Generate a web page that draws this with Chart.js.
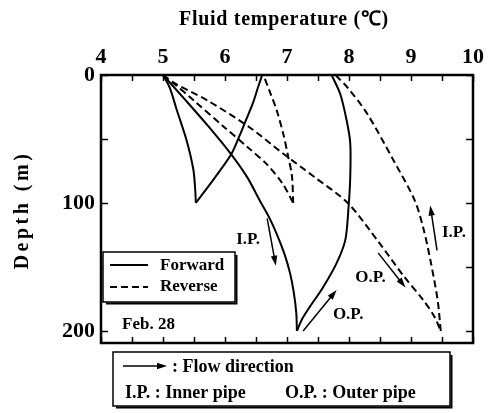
<!DOCTYPE html>
<html><head><meta charset="utf-8">
<script src="https://cdn.jsdelivr.net/npm/chart.js@4.4.0/dist/chart.umd.min.js"></script>
<style>html,body{margin:0;padding:0;background:#fff;}canvas{display:block;}</style>
</head><body>
<canvas id="c" width="491" height="413"></canvas>
<script>
// ---- axis ticks ----
const xTickValues = [4, 5, 6, 7, 8, 9, 10];
const xTickLabels = ['4', '5', '6', '7', '8', '9', '10'];
const yTickValues = [0, 100, 200];
const yTickLabels = ['0', '100', '200'];

// ---- Forward (solid), 100 m loop ----
const fwd100DownDepth = [0, 10, 27, 51, 74, 90, 100];
const fwd100DownTemp  = [5.0, 5.11, 5.22, 5.38, 5.49, 5.52, 5.53];
const fwd100UpDepth   = [100, 80, 62, 48, 35, 22, 10, 0];
const fwd100UpTemp    = [5.53, 5.84, 6.10, 6.23, 6.34, 6.45, 6.53, 6.6];
// ---- Forward (solid), 200 m loop ----
const fwd200DownDepth = [0, 20, 40, 62, 80, 98, 112, 126, 140, 155, 170, 186, 200];
const fwd200DownTemp  = [5.0, 5.37, 5.73, 6.1, 6.36, 6.56, 6.72, 6.85, 6.96, 7.05, 7.11, 7.15, 7.16];
const fwd200UpDepth   = [200, 191, 181, 166, 147, 129, 105, 80, 53, 35, 15, 0];
const fwd200UpTemp    = [7.16, 7.24, 7.37, 7.58, 7.8, 7.94, 7.99, 8.02, 8.02, 7.96, 7.86, 7.72];
// ---- Reverse (dashed), 100 m loop ----
const rev100DownDepth = [0, 6, 20, 40, 57, 70, 85, 100];
const rev100DownTemp  = [5.0, 5.16, 5.5, 5.97, 6.38, 6.68, 6.93, 7.1];
const rev100UpDepth   = [100, 79, 64, 46, 27, 14, 0];
const rev100UpTemp    = [7.1, 7.08, 7.02, 6.94, 6.83, 6.73, 6.62];
// ---- Reverse (dashed), 200 m loop ----
const rev200DownDepth = [0, 6, 20, 41, 60, 80, 100, 130, 157, 176, 189, 200];
const rev200DownTemp  = [5.0, 5.17, 5.72, 6.4, 6.9, 7.45, 7.98, 8.47, 8.88, 9.2, 9.38, 9.48];
const rev200UpDepth   = [200, 176, 144, 120, 98, 66, 30, 10, 0];
const rev200UpTemp    = [9.48, 9.43, 9.31, 9.2, 9.06, 8.71, 8.29, 7.98, 7.78];

// ---- annotations (data units: temperature, depth) ----
const annotTexts = [
  {text: 'I.P.', x: 6.18, y: 129},
  {text: 'O.P.', x: 8.10, y: 158},
  {text: 'I.P.', x: 9.50, y: 123},
  {text: 'O.P.', x: 7.74, y: 187},
  {text: 'Feb. 28', x: 4.34, y: 195}
];
const annotArrows = [
  {x1: 6.68, y1: 112, x2: 6.82, y2: 149},
  {x1: 8.47, y1: 139, x2: 8.91, y2: 166},
  {x1: 9.42, y1: 137, x2: 9.31, y2: 102},
  {x1: 7.26, y1: 200, x2: 7.80, y2: 168}
];

const FONT = '"Liberation Serif", "Times New Roman", serif';

function pts(temps, depths) { return temps.map((t, i) => ({x: t, y: depths[i]})); }
const solidStyle = {borderColor: '#000', borderWidth: 2, pointRadius: 0, showLine: true, tension: 0.3, fill: false};
const dashStyle = Object.assign({}, solidStyle, {borderDash: [7, 4]});

function arrow(ctx, x1, y1, x2, y2) {
  const a = Math.atan2(y2 - y1, x2 - x1), L = 10, W = 3.2;
  ctx.beginPath();
  ctx.moveTo(x1, y1);
  ctx.lineTo(x2 - L * 0.8 * Math.cos(a), y2 - L * 0.8 * Math.sin(a));
  ctx.stroke();
  ctx.beginPath();
  ctx.moveTo(x2, y2);
  ctx.lineTo(x2 - L * Math.cos(a) - W * Math.sin(a), y2 - L * Math.sin(a) + W * Math.cos(a));
  ctx.lineTo(x2 - L * Math.cos(a) + W * Math.sin(a), y2 - L * Math.sin(a) - W * Math.cos(a));
  ctx.closePath();
  ctx.fill();
}

const decor = {
  id: 'decor',
  afterDraw(chart) {
    const {ctx, chartArea: ca, scales: {x, y}} = chart;
    ctx.save();
    ctx.strokeStyle = '#000'; ctx.fillStyle = '#000';
    ctx.setLineDash([]);
    // inward minor ticks
    ctx.lineWidth = 1.5;
    for (let v = x.min; v <= x.max + 1e-9; v += 0.5) {
      const px = Math.round(x.getPixelForValue(v)) + 0.5;
      ctx.beginPath(); ctx.moveTo(px, ca.top); ctx.lineTo(px, ca.top + 6); ctx.stroke();
      ctx.beginPath(); ctx.moveTo(px, ca.bottom); ctx.lineTo(px, ca.bottom - 6); ctx.stroke();
    }
    for (let v = 0; v <= y.max; v += 50) {
      const py = Math.round(y.getPixelForValue(v)) + 0.5;
      ctx.beginPath(); ctx.moveTo(ca.left, py); ctx.lineTo(ca.left + 7, py); ctx.stroke();
      ctx.beginPath(); ctx.moveTo(ca.right, py); ctx.lineTo(ca.right - 7, py); ctx.stroke();
    }
    // frame
    ctx.lineWidth = 2.5;
    ctx.strokeRect(ca.left, ca.top, ca.right - ca.left, ca.bottom - ca.top);

    // legend box (inside plot)
    const lx = ca.left + 2, ly = 252, lw = 132, lh = 50;
    ctx.fillStyle = '#fff';
    ctx.fillRect(lx, ly, lw, lh);
    ctx.fillStyle = '#000';
    ctx.lineWidth = 1.5;
    ctx.strokeRect(lx, ly, lw, lh);
    ctx.lineWidth = 2;
    ctx.beginPath(); ctx.moveTo(lx + lw + 1.5, ly + 3); ctx.lineTo(lx + lw + 1.5, ly + lh + 1.5); ctx.lineTo(lx + 3, ly + lh + 1.5); ctx.stroke();
    ctx.lineWidth = 2;
    ctx.beginPath(); ctx.moveTo(lx + 7, 265); ctx.lineTo(lx + 45, 265); ctx.stroke();
    ctx.setLineDash([7, 4]);
    ctx.beginPath(); ctx.moveTo(lx + 7, 287); ctx.lineTo(lx + 45, 287); ctx.stroke();
    ctx.setLineDash([]);
    ctx.font = 'bold 17px ' + FONT;
    ctx.textAlign = 'left'; ctx.textBaseline = 'middle';
    ctx.fillText('Forward', lx + 57, 266);
    ctx.fillText('Reverse', lx + 57, 287);

    // annotations
    ctx.font = 'bold 17px ' + FONT;
    annotTexts.forEach(a => ctx.fillText(a.text, x.getPixelForValue(a.x), y.getPixelForValue(a.y)));
    ctx.lineWidth = 1.5;
    annotArrows.forEach(a => arrow(ctx, x.getPixelForValue(a.x1), y.getPixelForValue(a.y1), x.getPixelForValue(a.x2), y.getPixelForValue(a.y2)));

    // bottom explanation box
    const bx = 113, by = 352, bw = 337, bh = 54;
    ctx.lineWidth = 1.5;
    ctx.strokeRect(bx, by, bw, bh);
    ctx.lineWidth = 2;
    ctx.beginPath(); ctx.moveTo(bx + bw + 1.5, by + 3); ctx.lineTo(bx + bw + 1.5, by + bh + 1.5); ctx.lineTo(bx + 3, by + bh + 1.5); ctx.stroke();
    ctx.lineWidth = 1.5;
    arrow(ctx, bx + 10, 366, bx + 54, 366);
    ctx.font = 'bold 18px ' + FONT;
    ctx.fillText(': Flow direction', bx + 59, 367);
    ctx.fillText('I.P. : Inner pipe', bx + 12, 393);
    ctx.fillText('O.P. : Outer pipe', bx + 172, 393);

    // axis titles
    ctx.font = 'bold 20px ' + FONT;
    ctx.textAlign = 'center'; ctx.textBaseline = 'alphabetic';
    ctx.letterSpacing = '0.7px';
    ctx.fillText('Fluid temperature (\u2103)', 284, 25);
    ctx.save();
    ctx.translate(28, 210);
    ctx.rotate(-Math.PI / 2);
    ctx.letterSpacing = '3.5px';
    ctx.fillText('Depth (m)', 0, 0);
    ctx.restore();
    ctx.restore();
  }
};

new Chart(document.getElementById('c'), {
  type: 'scatter',
  data: {
    datasets: [
      Object.assign({label: 'Forward', data: pts(fwd100DownTemp, fwd100DownDepth)}, solidStyle),
      Object.assign({label: 'Forward', data: pts(fwd100UpTemp, fwd100UpDepth)}, solidStyle),
      Object.assign({label: 'Forward', data: pts(fwd200DownTemp, fwd200DownDepth)}, solidStyle),
      Object.assign({label: 'Forward', data: pts(fwd200UpTemp, fwd200UpDepth)}, solidStyle),
      Object.assign({label: 'Reverse', data: pts(rev100DownTemp, rev100DownDepth)}, dashStyle),
      Object.assign({label: 'Reverse', data: pts(rev100UpTemp, rev100UpDepth)}, dashStyle),
      Object.assign({label: 'Reverse', data: pts(rev200DownTemp, rev200DownDepth)}, dashStyle),
      Object.assign({label: 'Reverse', data: pts(rev200UpTemp, rev200UpDepth)}, dashStyle)
    ]
  },
  options: {
    responsive: false,
    animation: false,
    devicePixelRatio: 1,
    layout: {padding: {left: 0, top: 0, right: 18, bottom: 70}},
    plugins: {legend: {display: false}, tooltip: {enabled: false}},
    scales: {
      x: {
        type: 'linear', position: 'top', min: 4, max: 10,
        grid: {display: false, drawTicks: false}, border: {display: false},
        afterFit(s) { s.height = 75; },
        afterBuildTicks(s) { s.ticks = xTickValues.map(v => ({value: v})); },
        ticks: {
          padding: 4, color: '#000', maxRotation: 0, autoSkip: false,
          font: {family: FONT, size: 22, weight: 'bold'},
          callback: (v, i) => xTickLabels[i]
        }
      },
      y: {
        type: 'linear', position: 'left', reverse: true, min: 0, max: 209.4,
        grid: {display: false, drawTicks: false}, border: {display: false},
        afterFit(s) { s.width = 101; },
        afterBuildTicks(s) { s.ticks = yTickValues.map(v => ({value: v})); },
        ticks: {
          padding: 6, color: '#000', autoSkip: false,
          font: {family: FONT, size: 22, weight: 'bold'},
          callback: (v, i) => yTickLabels[i]
        }
      }
    }
  },
  plugins: [decor]
});
</script>
</body></html>
